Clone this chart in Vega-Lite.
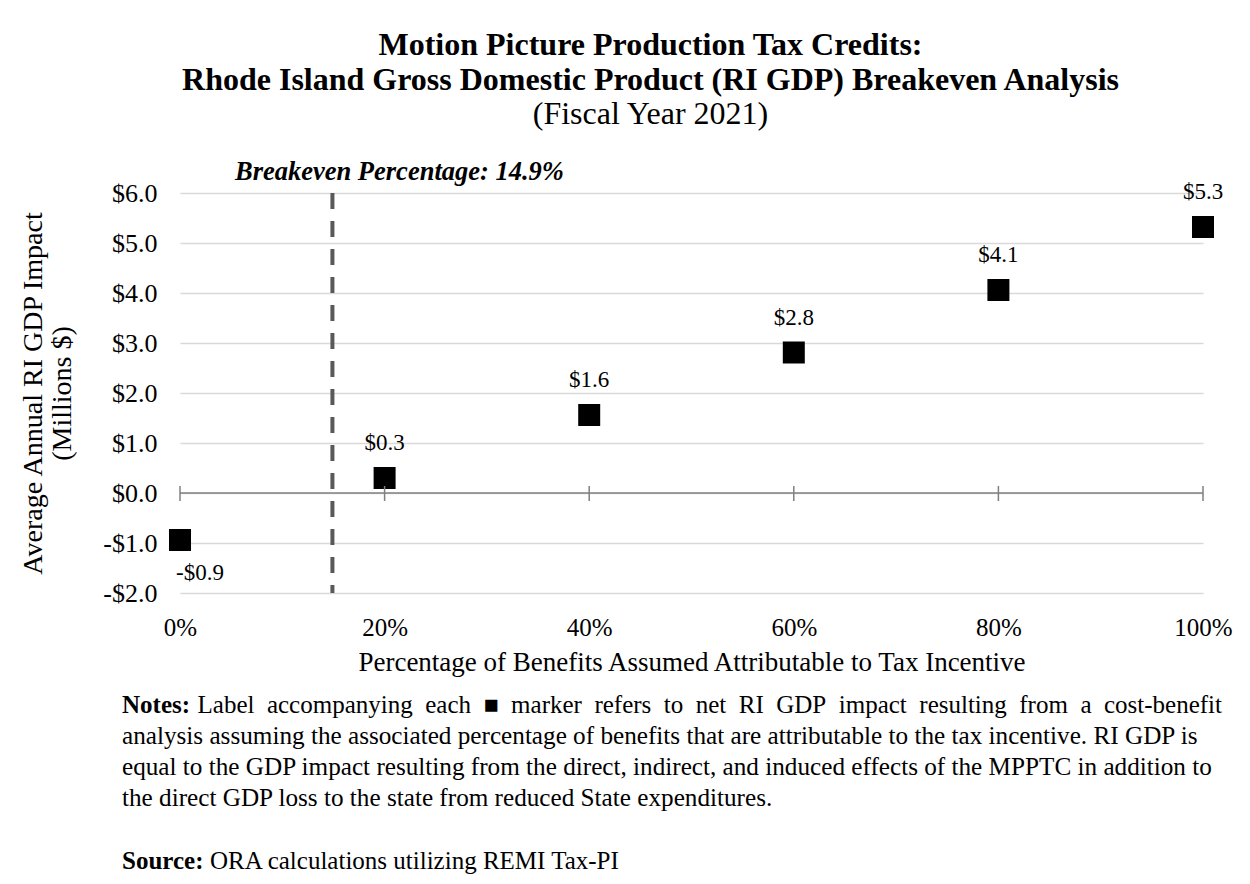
{
  "$schema": "https://vega.github.io/schema/vega-lite/v6.json",
  "description": "Motion Picture Production Tax Credits: RI GDP breakeven analysis, FY 2021",
  "width": 1023,
  "height": 400,
  "autosize": {"type": "none"},
  "padding": {"left": 180, "top": 193, "right": 47, "bottom": 291},
  "background": "white",
  "config": {
    "font": "Liberation Serif",
    "view": {"stroke": null},
    "text": {"font": "Liberation Serif", "color": "black"}
  },
  "title": {
    "text": ["Motion Picture Production Tax Credits:", "Rhode Island Gross Domestic Product (RI GDP) Breakeven Analysis"],
    "subtitle": "(Fiscal Year 2021)",
    "font": "Liberation Serif",
    "fontSize": 32,
    "fontWeight": "bold",
    "color": "black",
    "lineHeight": 35,
    "subtitleFont": "Liberation Serif",
    "subtitleFontSize": 32,
    "subtitleColor": "black",
    "subtitleLineHeight": 32,
    "subtitlePadding": 2,
    "anchor": "middle",
    "dx": -41,
    "offset": 28
  },
  "datasets": {
    "points": [
      {"pct": 0, "gdp": -0.94, "label": "-$0.9"},
      {"pct": 20, "gdp": 0.30, "label": "$0.3"},
      {"pct": 40, "gdp": 1.56, "label": "$1.6"},
      {"pct": 60, "gdp": 2.81, "label": "$2.8"},
      {"pct": 80, "gdp": 4.06, "label": "$4.1"},
      {"pct": 100, "gdp": 5.32, "label": "$5.3"}
    ],
    "ticks": [
      {"pct": 0}, {"pct": 20}, {"pct": 40}, {"pct": 60}, {"pct": 80}, {"pct": 100}
    ]
  },
  "layer": [
    {
      "data": {"name": "points"},
      "mark": {"type": "point", "shape": "square", "size": 484, "filled": true, "color": "black", "opacity": 1, "clip": false},
      "encoding": {
        "x": {
          "field": "pct",
          "type": "quantitative",
          "scale": {"domain": [0, 100], "nice": false},
          "title": "Percentage of Benefits Assumed Attributable to Tax Incentive",
          "axis": {
            "values": [0, 20, 40, 60, 80, 100],
            "labelExpr": "datum.value + '%'",
            "domain": false,
            "ticks": false,
            "grid": false,
            "labelFont": "Liberation Serif",
            "labelFontSize": 25,
            "labelColor": "black",
            "labelPadding": 22,
            "labelFlush": false,
            "titleFont": "Liberation Serif",
            "titleFontSize": 27,
            "titleFontWeight": "normal",
            "titleColor": "black",
            "titlePadding": 9
          }
        },
        "y": {
          "field": "gdp",
          "type": "quantitative",
          "scale": {"domain": [-2, 6], "nice": false},
          "title": ["Average Annual RI GDP Impact", "(Millions $)"],
          "axis": {
            "values": [-2, -1, 0, 1, 2, 3, 4, 5, 6],
            "labelExpr": "(datum.value < 0 ? '-$' : '$') + format(abs(datum.value), '.1f')",
            "domain": false,
            "ticks": false,
            "grid": true,
            "gridColor": "#d9d9d9",
            "gridWidth": 1.5,
            "labelFont": "Liberation Serif",
            "labelFontSize": 26,
            "labelColor": "black",
            "labelPadding": 23,
            "labelFlush": false,
            "titleFont": "Liberation Serif",
            "titleFontSize": 28,
            "titleFontWeight": "normal",
            "titleColor": "black",
            "titleLineHeight": 29,
            "titlePadding": 26
          }
        }
      }
    },
    {
      "data": {"values": [{}]},
      "mark": {"type": "rule", "color": "#595959", "strokeWidth": 4, "strokeDash": [16, 12]},
      "encoding": {
        "x": {"datum": 14.9}
      }
    },
    {
      "data": {"values": [{}]},
      "mark": {"type": "rule", "color": "#808080", "strokeWidth": 1.5},
      "encoding": {
        "y": {"datum": 0}
      }
    },
    {
      "data": {"name": "ticks"},
      "mark": {"type": "rule", "color": "#808080", "strokeWidth": 1.5},
      "encoding": {
        "x": {"field": "pct", "type": "quantitative"},
        "y": {"datum": -0.16},
        "y2": {"datum": 0.14}
      }
    },
    {
      "data": {"name": "points"},
      "transform": [{"filter": "datum.gdp >= 0"}],
      "mark": {"type": "text", "fontSize": 23, "baseline": "middle", "align": "center", "dy": -35},
      "encoding": {
        "x": {"field": "pct", "type": "quantitative"},
        "y": {"field": "gdp", "type": "quantitative"},
        "text": {"field": "label"}
      }
    },
    {
      "data": {"name": "points"},
      "transform": [{"filter": "datum.gdp < 0"}],
      "mark": {"type": "text", "fontSize": 23, "baseline": "middle", "align": "center", "dx": 20, "dy": 33},
      "encoding": {
        "x": {"field": "pct", "type": "quantitative"},
        "y": {"field": "gdp", "type": "quantitative"},
        "text": {"field": "label"}
      }
    },
    {
      "data": {"values": [{}]},
      "mark": {"type": "text", "text": "Breakeven Percentage: 14.9%", "fontSize": 26.5, "fontStyle": "italic", "fontWeight": "bold", "align": "center", "baseline": "alphabetic", "dx": 67, "dy": -13},
      "encoding": {
        "x": {"datum": 14.9},
        "y": {"datum": 6}
      }
    },
    {
      "data": {"values": [{}]},
      "mark": {"type": "text", "text": "Notes:", "fontSize": 25, "fontWeight": "bold", "align": "left", "baseline": "alphabetic", "dx": -58},
      "encoding": {
        "x": {"datum": 0},
        "y": {"datum": -4.394}
      }
    },
    {
      "data": {"values": [{}]},
      "mark": {"type": "text", "text": "Label\u2002accompanying\u2002each\u2002■\u2002marker\u2002refers\u2002to\u2002net\u2002RI\u2002GDP\u2002impact\u2002resulting\u2002from\u2002a\u2002cost-benefit", "fontSize": 25, "align": "right", "baseline": "alphabetic", "dx": 19},
      "encoding": {
        "x": {"datum": 100},
        "y": {"datum": -4.394}
      }
    },
    {
      "data": {"values": [{}]},
      "mark": {
        "type": "text",
        "text": [
          "analysis assuming the associated percentage of benefits that are attributable to the tax incentive. RI GDP is",
          "equal to the GDP impact resulting from the direct, indirect, and induced effects of the MPPTC in addition to",
          "the direct GDP loss to the state from reduced State expenditures."
        ],
        "fontSize": 25.2,
        "lineHeight": 31,
        "align": "left",
        "baseline": "alphabetic",
        "dx": -58
      },
      "encoding": {
        "x": {"datum": 0},
        "y": {"datum": -5.014}
      }
    },
    {
      "data": {"values": [{}]},
      "mark": {"type": "text", "text": "Source:", "fontSize": 25, "fontWeight": "bold", "align": "left", "baseline": "alphabetic", "dx": -58},
      "encoding": {
        "x": {"datum": 0},
        "y": {"datum": -7.514}
      }
    },
    {
      "data": {"values": [{}]},
      "mark": {"type": "text", "text": "ORA calculations utilizing REMI Tax-PI", "fontSize": 25, "align": "left", "baseline": "alphabetic", "dx": 30},
      "encoding": {
        "x": {"datum": 0},
        "y": {"datum": -7.514}
      }
    }
  ]
}
